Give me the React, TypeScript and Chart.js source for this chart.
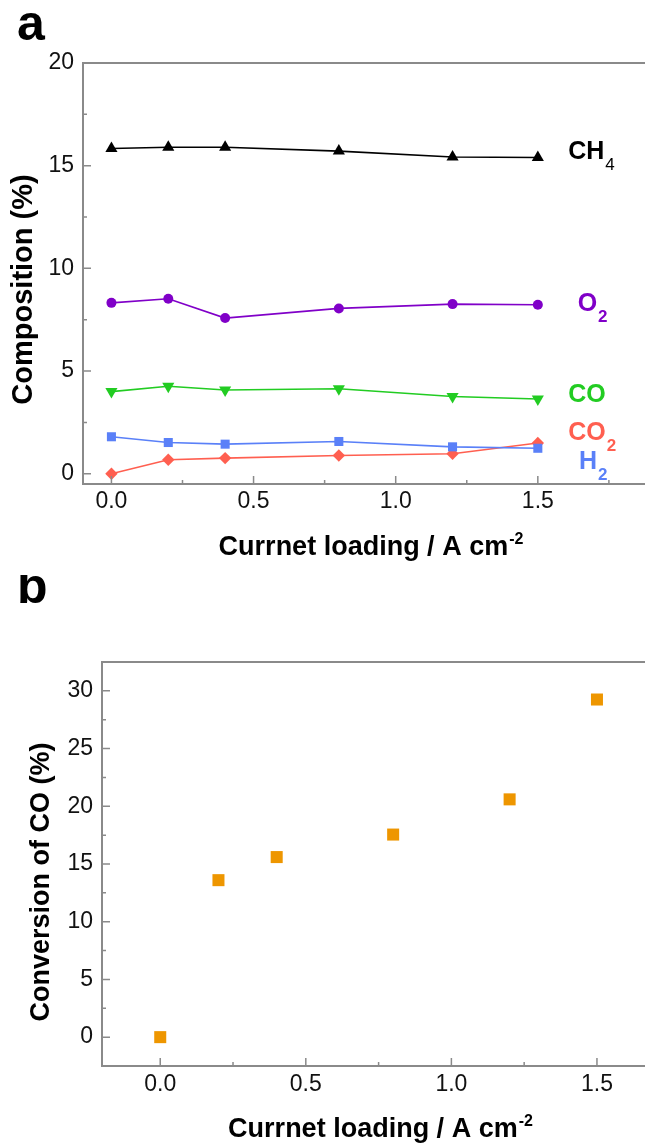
import React, { useEffect, useRef } from 'react';
import { Chart, registerables } from 'chart.js';

Chart.register(...registerables);

// ---------- data ----------
const loading = [0, 0.2, 0.4, 0.8, 1.2, 1.5];
const ch4 = [15.84, 15.9, 15.9, 15.71, 15.42, 15.4];
const o2 = [8.32, 8.52, 7.58, 8.05, 8.26, 8.23];
const co = [4.0, 4.26, 4.08, 4.14, 3.76, 3.64];
const co2 = [0.0, 0.68, 0.76, 0.89, 0.97, 1.5];
const h2 = [1.8, 1.52, 1.44, 1.57, 1.31, 1.24];
const conversion = [0, 13.6, 15.6, 17.55, 20.6, 29.25];

const xTickValues = [0, 0.5, 1.0, 1.5];
const yTicksA = [0, 5, 10, 15, 20];
const yTicksB = [0, 5, 10, 15, 20, 25, 30];

const xTitleText = 'Currnet loading / A cm';
const xTitleSup = '-2';
const yTitleA = 'Composition (%)';
const yTitleB = 'Conversion of CO (%)';

const FONT = '"Liberation Sans", Arial, Helvetica, sans-serif';
const AXIS_COLOR = '#8a8a8a';

const pts = (ys: number[]) => loading.map((x, i) => ({ x, y: ys[i] }));

function minorValues(min: number, max: number, step: number, majors: number[]) {
  const out: number[] = [];
  const start = Math.ceil(min / step) * step;
  for (let v = start; v <= max + 1e-9; v += step) {
    const r = Math.round(v * 1000) / 1000;
    if (!majors.some((m) => Math.abs(m - r) < 1e-6)) out.push(r);
  }
  return out;
}

function makeDecor(cfg: any) {
  return {
    id: 'decor',
    afterDraw(chart: any) {
      const { ctx, chartArea: a, scales } = chart;
      const x = scales.x;
      const y = scales.y;
      ctx.save();
      // frame
      ctx.strokeStyle = AXIS_COLOR;
      ctx.lineWidth = 2;
      ctx.beginPath();
      ctx.moveTo(a.right + 2, a.top);
      ctx.lineTo(a.left, a.top);
      ctx.lineTo(a.left, a.bottom);
      ctx.lineTo(a.right + 2, a.bottom);
      ctx.stroke();
      // ticks (inward)
      ctx.lineWidth = 1.5;
      ctx.beginPath();
      for (const v of cfg.xMajor) {
        const p = x.getPixelForValue(v);
        ctx.moveTo(p, a.bottom);
        ctx.lineTo(p, a.bottom - 8);
      }
      for (const v of cfg.xMinor) {
        const p = x.getPixelForValue(v);
        ctx.moveTo(p, a.bottom);
        ctx.lineTo(p, a.bottom - 4);
      }
      for (const v of cfg.yMajor) {
        const p = y.getPixelForValue(v);
        ctx.moveTo(a.left, p);
        ctx.lineTo(a.left + 8, p);
      }
      for (const v of cfg.yMinor) {
        const p = y.getPixelForValue(v);
        ctx.moveTo(a.left, p);
        ctx.lineTo(a.left + 4, p);
      }
      ctx.stroke();

      // x title with superscript
      ctx.fillStyle = '#000';
      ctx.textBaseline = 'alphabetic';
      ctx.font = `bold ${cfg.xTitleSize}px ${FONT}`;
      const mainW = ctx.measureText(xTitleText).width;
      ctx.font = `bold 16px ${FONT}`;
      const supW = ctx.measureText(xTitleSup).width;
      const total = mainW + supW + 1;
      const cx = (a.left + a.right) / 2 + cfg.xTitleShift;
      const startX = cx - total / 2;
      const base = a.bottom + 71;
      ctx.font = `bold ${cfg.xTitleSize}px ${FONT}`;
      ctx.textAlign = 'left';
      ctx.fillText(xTitleText, startX, base);
      ctx.font = `bold 16px ${FONT}`;
      ctx.fillText(xTitleSup, startX + mainW + 1, base - 11);

      // y title
      ctx.save();
      ctx.translate(a.left - cfg.yTitleGap, (a.top + a.bottom) / 2 + cfg.yTitleShift);
      ctx.rotate(-Math.PI / 2);
      ctx.textAlign = 'center';
      ctx.textBaseline = 'middle';
      ctx.font = `bold ${cfg.yTitleSize}px ${FONT}`;
      ctx.fillText(cfg.yTitle, 0, 0);
      ctx.restore();

      // panel letter
      ctx.textAlign = 'left';
      ctx.textBaseline = 'alphabetic';
      ctx.font = `bold 50px ${FONT}`;
      ctx.fillText(cfg.panel, 17, cfg.panelBase);

      // species labels
      for (const lb of cfg.labels || []) {
        const px = x.getPixelForValue(lb.x);
        const py = y.getPixelForValue(lb.y);
        ctx.fillStyle = lb.color;
        ctx.font = `bold 25px ${FONT}`;
        const b = py + 9;
        ctx.fillText(lb.main, px, b);
        const w = ctx.measureText(lb.main).width;
        if (lb.sub) {
          ctx.font = `${lb.subBold ? 'bold ' : ''}17px ${FONT}`;
          ctx.fillText(lb.sub, px + w + 1, b + 11);
        }
      }
      ctx.restore();
    },
  };
}

function baseScales(
  xMin: number,
  xMax: number,
  yMin: number,
  yMax: number,
  yTicks: number[],
  yWidth: number,
  xHeight: number,
  xPad: number
) {
  return {
    x: {
      type: 'linear' as const,
      min: xMin,
      max: xMax,
      grid: { display: false, drawTicks: false },
      border: { display: false },
      afterBuildTicks: (s: any) => {
        s.ticks = xTickValues.map((v) => ({ value: v }));
      },
      afterFit: (s: any) => {
        s.height = xHeight;
      },
      ticks: {
        padding: xPad,
        color: '#111',
        font: { family: FONT, size: 23 },
        maxRotation: 0,
        autoSkip: false,
        callback: (v: any) => Number(v).toFixed(1),
      },
    },
    y: {
      type: 'linear' as const,
      min: yMin,
      max: yMax,
      grid: { display: false, drawTicks: false },
      border: { display: false },
      afterBuildTicks: (s: any) => {
        s.ticks = yTicks.map((v) => ({ value: v }));
      },
      afterFit: (s: any) => {
        s.width = yWidth;
      },
      ticks: {
        padding: 9,
        color: '#111',
        font: { family: FONT, size: 23 },
        autoSkip: false,
        callback: (v: any) => String(v),
      },
    },
  };
}

const C_CH4 = '#000000';
const C_O2 = '#8000c8';
const C_CO = '#22cc22';
const C_CO2 = '#ff5f50';
const C_H2 = '#5a80f8';
const C_CONV = '#ee9600';

function lineDs(label: string, data: number[], color: string, style: string, radius: number, rotation = 0) {
  return {
    label,
    data: pts(data),
    borderColor: color,
    backgroundColor: color,
    borderWidth: 1.6,
    showLine: true,
    pointStyle: style,
    pointRadius: radius,
    pointRotation: rotation,
    pointBorderWidth: 0,
    pointBackgroundColor: color,
    pointBorderColor: color,
    tension: 0,
  };
}

export default function App() {
  const refA = useRef<HTMLCanvasElement>(null);
  const refB = useRef<HTMLCanvasElement>(null);

  useEffect(() => {
    const xMinA = -0.1;
    const xMaxA = 1.877;
    const yMinA = -0.5;
    const yMaxA = 20;
    const chartA = new Chart(refA.current as HTMLCanvasElement, {
      type: 'scatter',
      data: {
        datasets: [
          lineDs('CH4', ch4, C_CH4, 'triangle', 7),
          lineDs('O2', o2, C_O2, 'circle', 5),
          lineDs('CO', co, C_CO, 'triangle', 7, 180),
          lineDs('H2', h2, C_H2, 'rect', 6.4),
          lineDs('CO2', co2, C_CO2, 'rectRot', 6.2),
        ] as any,
      },
      options: {
        animation: false,
        responsive: false,
        maintainAspectRatio: false,
        layout: { autoPadding: false, padding: { top: 63, right: 0, left: 0, bottom: 0 } },
        plugins: { legend: { display: false }, tooltip: { enabled: false } },
        scales: baseScales(xMinA, xMaxA, yMinA, yMaxA, yTicksA, 83, 91, 4) as any,
      } as any,
      plugins: [
        makeDecor({
          xMajor: xTickValues,
          xMinor: minorValues(xMinA, xMaxA, 0.25, xTickValues),
          yMajor: yTicksA,
          yMinor: minorValues(yMinA, yMaxA, 2.5, yTicksA),
          xTitleSize: 27,
          xTitleShift: 7,
          yTitle: yTitleA,
          yTitleSize: 29,
          yTitleGap: 59,
          yTitleShift: 16,
          panel: 'a',
          panelBase: 40,
          labels: [
            { main: 'CH', sub: '4', color: C_CH4, x: 1.607, y: 15.76, subBold: false },
            { main: 'O', sub: '2', color: C_O2, x: 1.64, y: 8.38, subBold: true },
            { main: 'CO', sub: '', color: C_CO, x: 1.607, y: 3.95, subBold: true },
            { main: 'CO', sub: '2', color: C_CO2, x: 1.607, y: 2.1, subBold: true },
            { main: 'H', sub: '2', color: C_H2, x: 1.645, y: 0.65, subBold: true },
          ],
        }),
      ],
    });

    const xMinB = -0.2;
    const xMaxB = 1.665;
    const yMinB = -2.5;
    const yMaxB = 32.5;
    const chartB = new Chart(refB.current as HTMLCanvasElement, {
      type: 'scatter',
      data: {
        datasets: [
          {
            label: 'Conversion of CO',
            data: pts(conversion),
            showLine: false,
            pointStyle: 'rect',
            pointRadius: 8.5,
            pointBorderWidth: 0,
            backgroundColor: C_CONV,
            borderColor: C_CONV,
            pointBackgroundColor: C_CONV,
          },
        ] as any,
      },
      options: {
        animation: false,
        responsive: false,
        maintainAspectRatio: false,
        layout: { autoPadding: false, padding: { top: 87, right: 0, left: 0, bottom: 0 } },
        plugins: { legend: { display: false }, tooltip: { enabled: false } },
        scales: baseScales(xMinB, xMaxB, yMinB, yMaxB, yTicksB, 102, 78, 5) as any,
      } as any,
      plugins: [
        makeDecor({
          xMajor: xTickValues,
          xMinor: minorValues(xMinB, xMaxB, 0.25, xTickValues),
          yMajor: yTicksB,
          yMinor: minorValues(yMinB, yMaxB, 2.5, yTicksB),
          xTitleSize: 27,
          xTitleShift: 7,
          yTitle: yTitleB,
          yTitleSize: 27,
          yTitleGap: 60,
          yTitleShift: 18,
          panel: 'b',
          panelBase: 28,
          labels: [],
        }),
      ],
    });

    return () => {
      chartA.destroy();
      chartB.destroy();
    };
  }, []);

  return (
    <div style={{ position: 'absolute', left: 0, top: 0, width: 645, height: 1144, background: '#fff' }}>
      <canvas ref={refA} width={645} height={575} style={{ position: 'absolute', left: 0, top: 0 }} />
      <canvas ref={refB} width={645} height={569} style={{ position: 'absolute', left: 0, top: 575 }} />
    </div>
  );
}
